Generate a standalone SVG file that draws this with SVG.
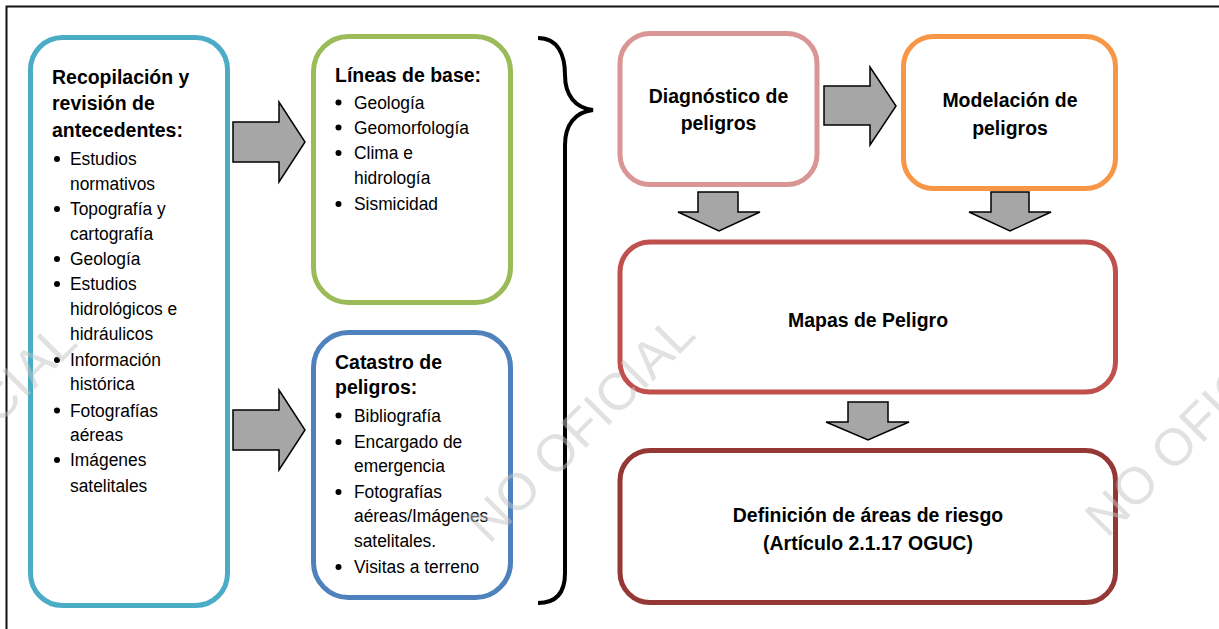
<svg xmlns="http://www.w3.org/2000/svg" width="1219" height="629" viewBox="0 0 1219 629">
<style>
.box{fill:#fff;stroke-width:5}
.h{font-family:"Liberation Sans",Arial,sans-serif;font-weight:bold;font-size:20.5px;fill:#000}
.t{font-family:"Liberation Sans",Arial,sans-serif;font-size:19px;fill:#000}
.c{text-anchor:middle}
.arr{fill:#a6a6a6;stroke:#000;stroke-width:1.5;stroke-linejoin:miter}
.wm{font-family:"Liberation Sans",Arial,sans-serif;font-size:52px;fill:#c4c4c4;opacity:0.5}
</style>
<defs>
<circle id="b" r="3" fill="#000"/>
</defs>
<rect x="0" y="0" width="1219" height="629" fill="#fff"/>
<rect x="6.5" y="6.5" width="1240" height="660" fill="none" stroke="#111" stroke-width="2"/>

<g id="recopilacion">
<rect class="box" x="30.5" y="37.5" width="197" height="568" rx="32" stroke="#4BACC6"/>
<text class="h" transform="translate(52 83.5) scale(0.95 1)">Recopilación y</text>
<text class="h" transform="translate(52 110) scale(0.95 1)">revisión de</text>
<text class="h" transform="translate(52 136.5) scale(0.95 1)">antecedentes:</text>
<use href="#b" x="57" y="159"/><text class="t" transform="translate(70 165) scale(0.915 1)">Estudios</text>
<text class="t" transform="translate(70 189.5) scale(0.915 1)">normativos</text>
<use href="#b" x="57" y="209"/><text class="t" transform="translate(70 215) scale(0.915 1)">Topografía y</text>
<text class="t" transform="translate(70 239.5) scale(0.915 1)">cartografía</text>
<use href="#b" x="57" y="259"/><text class="t" transform="translate(70 265) scale(0.915 1)">Geología</text>
<use href="#b" x="57" y="284"/><text class="t" transform="translate(70 290) scale(0.915 1)">Estudios</text>
<text class="t" transform="translate(70 315) scale(0.915 1)">hidrológicos e</text>
<text class="t" transform="translate(70 340) scale(0.915 1)">hidráulicos</text>
<use href="#b" x="57" y="360"/><text class="t" transform="translate(70 366) scale(0.915 1)">Información</text>
<text class="t" transform="translate(70 390) scale(0.915 1)">histórica</text>
<use href="#b" x="57" y="410.5"/><text class="t" transform="translate(70 416.5) scale(0.915 1)">Fotografías</text>
<text class="t" transform="translate(70 440.5) scale(0.915 1)">aéreas</text>
<use href="#b" x="57" y="460"/><text class="t" transform="translate(70 466) scale(0.915 1)">Imágenes</text>
<text class="t" transform="translate(70 491.5) scale(0.915 1)">satelitales</text>
</g>

<g id="lineas-base">
<rect class="box" x="313.5" y="36.5" width="197" height="266" rx="35" stroke="#9BBB59"/>
<text class="h" transform="translate(335 81.5) scale(0.95 1)">Líneas de base:</text>
<use href="#b" x="338.5" y="102.5"/><text class="t" transform="translate(354 108.5) scale(0.915 1)">Geología</text>
<use href="#b" x="338.5" y="127.5"/><text class="t" transform="translate(354 133.5) scale(0.915 1)">Geomorfología</text>
<use href="#b" x="338.5" y="153"/><text class="t" transform="translate(354 159) scale(0.915 1)">Clima e</text>
<text class="t" transform="translate(354 184) scale(0.915 1)">hidrología</text>
<use href="#b" x="338.5" y="204"/><text class="t" transform="translate(354 210) scale(0.915 1)">Sismicidad</text>
</g>

<g id="catastro">
<rect class="box" x="313.5" y="332.5" width="197" height="265" rx="35" stroke="#4F81BD"/>
<text class="h" transform="translate(335 368.5) scale(0.95 1)">Catastro de</text>
<text class="h" transform="translate(335 393.5) scale(0.95 1)">peligros:</text>
<use href="#b" x="338.5" y="415.5"/><text class="t" transform="translate(354 421.5) scale(0.915 1)">Bibliografía</text>
<use href="#b" x="338.5" y="442"/><text class="t" transform="translate(354 448) scale(0.915 1)">Encargado de</text>
<text class="t" transform="translate(354 472) scale(0.915 1)">emergencia</text>
<use href="#b" x="338.5" y="492"/><text class="t" transform="translate(354 498) scale(0.915 1)">Fotografías</text>
<text class="t" transform="translate(354 522) scale(0.915 1)">aéreas/Imágenes</text>
<text class="t" transform="translate(354 546.5) scale(0.915 1)">satelitales.</text>
<use href="#b" x="338.5" y="567"/><text class="t" transform="translate(354 573) scale(0.915 1)">Visitas a terreno</text>
</g>

<g id="diagnostico">
<rect class="box" x="620" y="33.5" width="197" height="151" rx="30" stroke="#D99694"/>
<text class="h c" transform="translate(718.5 103) scale(0.95 1)">Diagnóstico de</text>
<text class="h c" transform="translate(718.5 130) scale(0.95 1)">peligros</text>
</g>

<g id="modelacion">
<rect class="box" x="903.5" y="36.5" width="212" height="152" rx="30" stroke="#F79646"/>
<text class="h c" transform="translate(1010 107) scale(0.95 1)">Modelación de</text>
<text class="h c" transform="translate(1010 135) scale(0.95 1)">peligros</text>
</g>

<g id="mapas">
<rect class="box" x="620" y="242" width="495.5" height="150" rx="30" stroke="#C0504D"/>
<text class="h c" transform="translate(868 327) scale(0.95 1)">Mapas de Peligro</text>
</g>

<g id="definicion">
<rect class="box" x="620" y="450.5" width="495.5" height="152" rx="30" stroke="#953735"/>
<text class="h c" transform="translate(868 522) scale(0.95 1)">Definición de áreas de riesgo</text>
<text class="h c" transform="translate(868 550) scale(0.95 1)">(Artículo 2.1.17 OGUC)</text>
</g>

<g id="connectors">
<path class="arr" d="M233,122 L279,122 L279,102 L305,142 L279,182 L279,162 L233,162 Z"/>
<path class="arr" d="M233,410 L279,410 L279,390 L305,430 L279,470 L279,450 L233,450 Z"/>
<path class="arr" d="M824,86 L870,86 L870,67 L896,106 L870,145 L870,125 L824,125 Z"/>
<path class="arr" d="M698,192 L738,192 L738,212 L760,212 L719,231 L678,212 L698,212 Z"/>
<path class="arr" d="M991,192 L1029,192 L1029,212 L1051,212 L1010,231 L969,212 L991,212 Z"/>
<path class="arr" d="M848,402 L888,402 L888,422 L909,422 L868,440 L826,422 L848,422 Z"/>
<path d="M538,38 C558,38 565,55 565,75 C565,95 575,108 593,110 C575,112 565,125 565,145 L565,573 C565,593 556,603 538,603" fill="none" stroke="#000" stroke-width="4"/>
</g>

<g id="watermark">
<text class="wm" transform="translate(489,545) rotate(-45)">NO OFICIAL</text>
<text class="wm" transform="translate(-129,553) rotate(-45)">NO OFICIAL</text>
<text class="wm" transform="translate(1107,539) rotate(-45)">NO OFICIAL</text>
</g>
</svg>
